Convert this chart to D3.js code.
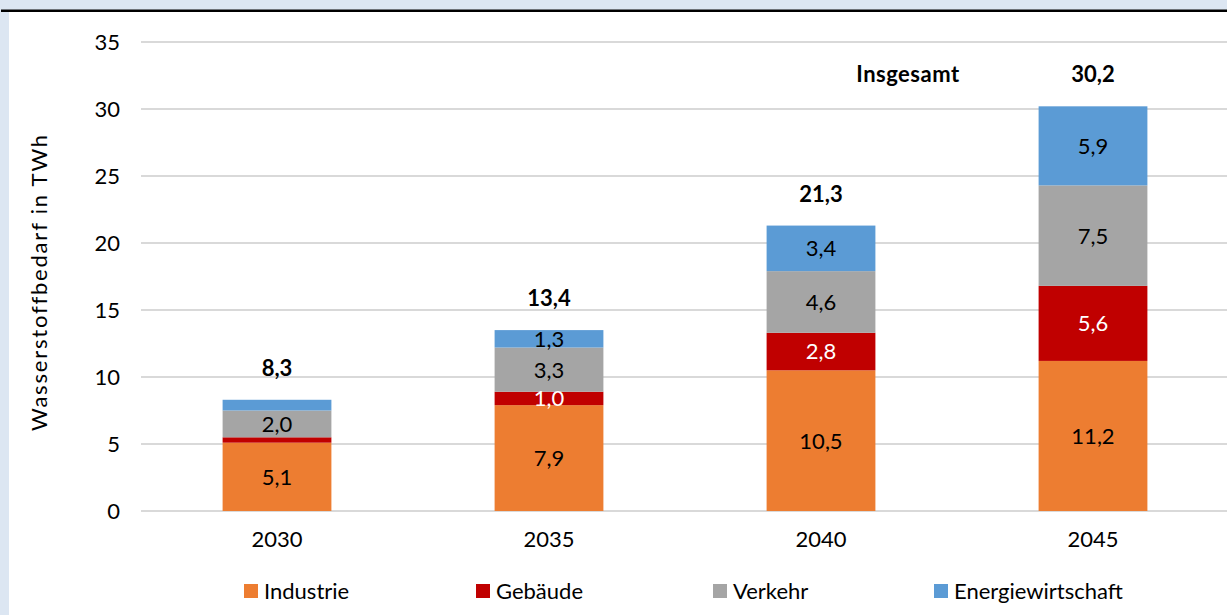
<!DOCTYPE html>
<html>
<head>
<meta charset="utf-8">
<script src="https://cdn.jsdelivr.net/npm/d3@7"></script>
<style>
  body { margin: 0; background: #fff; }
  svg { display: block; font-family: Lato, "Open Sans", sans-serif; }
</style>
</head>
<body>
<div id="chart"></div>
<script>
// Data
var years = ["2030", "2035", "2040", "2045"];
var sectors = ["Industrie", "Gebäude", "Verkehr", "Energiewirtschaft"];
var industrie = [5.1, 7.9, 10.5, 11.2];
var gebaeude = [0.4, 1.0, 2.8, 5.6];
var verkehr = [2.0, 3.3, 4.6, 7.5];
var energie = [0.8, 1.3, 3.4, 5.9];
var totals = ["8,3", "13,4", "21,3", "30,2"];
var yTicks = [0, 5, 10, 15, 20, 25, 30, 35];
var colors = ["#ED7D31", "#C00000", "#A5A5A5", "#5B9BD5"];
var labelColors = ["#000", "#fff", "#000", "#000"];

var width = 1227, height = 615;
var margin = {top: 42, left: 141, right: -2, bottom: 104};
var fs = 22;

var svg = d3.select("#chart").append("svg")
  .attr("width", width)
  .attr("height", height);

// frame decoration (light blue band + dark rule)
svg.append("rect").attr("x", 0).attr("y", 0).attr("width", width).attr("height", 10).attr("fill", "#dce6f2");
svg.append("rect").attr("x", 0).attr("y", 10).attr("width", 9).attr("height", height - 10).attr("fill", "#dce6f2");
svg.append("rect").attr("x", 1).attr("y", 9.5).attr("width", width).attr("height", 2.5).attr("fill", "#000");

var x = d3.scaleBand()
  .domain(years)
  .range([margin.left, width - margin.right])
  .paddingInner(0.6)
  .paddingOuter(0.3);

var y = d3.scaleLinear()
  .domain([0, 35])
  .range([height - margin.bottom, margin.top]);

// gridlines
svg.append("g")
  .selectAll("line")
  .data(yTicks)
  .enter().append("line")
  .attr("x1", margin.left)
  .attr("x2", width)
  .attr("y1", function(d) { return Math.round(y(d)); })
  .attr("y2", function(d) { return Math.round(y(d)); })
  .attr("stroke", "#d9d9d9")
  .attr("stroke-width", 2);

// y axis labels
var yAxis = d3.axisLeft(y).tickValues(yTicks).tickSize(0).tickPadding(0).tickFormat(d3.format("d"));
var gy = svg.append("g")
  .attr("transform", "translate(120,0)")
  .call(yAxis);
gy.select(".domain").remove();
gy.selectAll("text")
  .attr("font-size", fs)
  .attr("font-family", "Lato, sans-serif")
  .attr("fill", "#000");

// x axis labels
var xAxis = d3.axisBottom(x).tickSize(0).tickPadding(0);
var gx = svg.append("g")
  .attr("transform", "translate(0," + (height - margin.bottom + 20) + ")")
  .call(xAxis);
gx.select(".domain").remove();
gx.selectAll("text")
  .attr("font-size", fs)
  .attr("font-family", "Lato, sans-serif")
  .attr("fill", "#000");

// y axis title
svg.append("text")
  .attr("transform", "translate(47,282) rotate(-90)")
  .attr("text-anchor", "middle")
  .attr("font-size", fs)
  .attr("letter-spacing", 1.8)
  .attr("fill", "#000")
  .text("Wasserstoffbedarf in TWh");

// stack data
var rows = years.map(function(yr, i) {
  return {year: yr, Industrie: industrie[i], "Gebäude": gebaeude[i], Verkehr: verkehr[i], Energiewirtschaft: energie[i]};
});
var series = d3.stack().keys(sectors)(rows);

var layers = svg.append("g").selectAll("g")
  .data(series)
  .enter().append("g")
  .attr("fill", function(d, i) { return colors[i]; });

layers.selectAll("rect")
  .data(function(d) { return d; })
  .enter().append("rect")
  .attr("x", function(d) { return x(d.data.year); })
  .attr("width", x.bandwidth())
  .attr("y", function(d) { return y(d[1]); })
  .attr("height", function(d) { return y(d[0]) - y(d[1]); });

// value labels
series.forEach(function(s, si) {
  svg.append("g").selectAll("text")
    .data(s.filter(function(d) { return d[1] - d[0] >= 1; }))
    .enter().append("text")
    .attr("x", function(d) { return x(d.data.year) + x.bandwidth() / 2; })
    .attr("y", function(d) { return (y(d[0]) + y(d[1])) / 2; })
    .attr("dy", "0.36em")
    .attr("text-anchor", "middle")
    .attr("font-size", fs)
    .attr("fill", labelColors[si])
    .text(function(d) { return d3.format(".1f")(d[1] - d[0]).replace(".", ","); });
});

// totals
var topSeries = series[series.length - 1];
svg.append("g").selectAll("text")
  .data(topSeries)
  .enter().append("text")
  .attr("x", function(d) { return x(d.data.year) + x.bandwidth() / 2; })
  .attr("y", function(d) { return y(d[1]) - 32; })
  .attr("dy", "0.36em")
  .attr("text-anchor", "middle")
  .attr("font-size", fs)
  .attr("font-weight", "bold")
  .attr("fill", "#000")
  .text(function(d, i) { return totals[i]; });

svg.append("text")
  .attr("x", 908)
  .attr("y", y(topSeries[3][1]) - 32)
  .attr("dy", "0.36em")
  .attr("text-anchor", "middle")
  .attr("font-size", fs)
  .attr("font-weight", "bold")
  .attr("letter-spacing", 0.5)
  .attr("fill", "#000")
  .text("Insgesamt");

// legend
var legendX = [244, 476, 713, 934];
var legend = svg.append("g").selectAll("g")
  .data(sectors)
  .enter().append("g")
  .attr("transform", function(d, i) { return "translate(" + legendX[i] + ",584)"; });
legend.append("rect")
  .attr("width", 14).attr("height", 14)
  .attr("fill", function(d, i) { return colors[i]; });
legend.append("text")
  .attr("x", 20)
  .attr("y", 7)
  .attr("dy", "0.36em")
  .attr("font-size", fs)
  .attr("fill", "#000")
  .text(function(d) { return d; });
</script>
</body>
</html>
